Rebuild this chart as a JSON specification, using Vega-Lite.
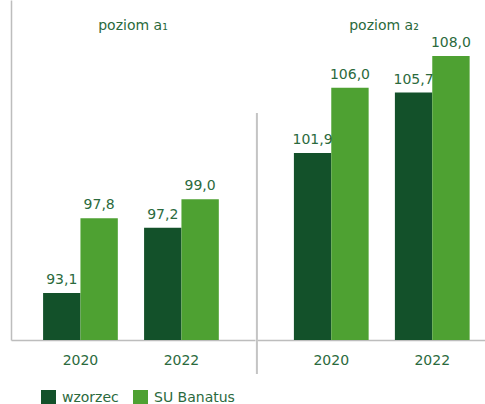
{
  "$schema": "https://vega.github.io/schema/vega-lite/v6.json",
  "padding": {"left": 11, "top": 0, "right": 0, "bottom": 0},
  "background": "white",
  "datasets": {
    "wyniki": [
      {"panel": "poziom a₁", "rok": "2020", "seria": "wzorzec", "wartosc": 93.1},
      {"panel": "poziom a₁", "rok": "2020", "seria": "SU Banatus", "wartosc": 97.8},
      {"panel": "poziom a₁", "rok": "2022", "seria": "wzorzec", "wartosc": 97.2},
      {"panel": "poziom a₁", "rok": "2022", "seria": "SU Banatus", "wartosc": 99.0},
      {"panel": "poziom a₂", "rok": "2020", "seria": "wzorzec", "wartosc": 101.9},
      {"panel": "poziom a₂", "rok": "2020", "seria": "SU Banatus", "wartosc": 106.0},
      {"panel": "poziom a₂", "rok": "2022", "seria": "wzorzec", "wartosc": 105.7},
      {"panel": "poziom a₂", "rok": "2022", "seria": "SU Banatus", "wartosc": 108.0}
    ]
  },
  "spacing": 0,
  "hconcat": [
    {
      "width": 244,
      "height": 340,
      "title": {"text": "poziom a₁", "offset": -33},
      "data": {"name": "wyniki"},
      "transform": [{"filter": "datum.panel === 'poziom a₁'"}],
      "encoding": {
        "x": {"field": "rok", "type": "nominal", "title": null,
              "scale": {"paddingInner": 0.26, "paddingOuter": 0.338, "align": 0.47},
              "axis": {"labelAngle": 0}},
        "xOffset": {"field": "seria", "type": "nominal", "sort": ["wzorzec", "SU Banatus"], "scale": {"paddingInner": 0, "paddingOuter": 0}},
        "y": {"field": "wartosc", "type": "quantitative", "title": null,
              "scale": {"domain": [90.15, 111.52], "nice": false, "zero": false},
              "axis": {"labels": false, "ticks": false, "grid": false, "domain": true}}
      },
      "layer": [
        {"mark": {"type": "bar", "clip": true},
         "encoding": {"color": {"field": "seria", "type": "nominal", "sort": ["wzorzec", "SU Banatus"], "title": null,
           "scale": {"domain": ["wzorzec", "SU Banatus"], "range": ["#13512a", "#4ea132"]}}}},
        {"mark": {"type": "text", "baseline": "bottom", "dy": -6, "fontSize": 14, "color": "#2b6a3d", "font": "DejaVu Sans"},
         "encoding": {"text": {"field": "wartosc", "type": "quantitative", "format": ".1f"}}}
      ]
    },
    {
      "width": 230,
      "height": 340,
      "title": {"text": "poziom a₂", "offset": -33, "dx": 12},
      "layer": [
        {
          "data": {"name": "wyniki"},
          "transform": [{"filter": "datum.panel === 'poziom a₂'"}],
          "encoding": {
            "x": {"field": "rok", "type": "nominal", "title": null,
                  "scale": {"paddingInner": 0.26, "paddingOuter": 0.2687, "align": 0.68},
                  "axis": {"labelAngle": 0}},
            "xOffset": {"field": "seria", "type": "nominal", "sort": ["wzorzec", "SU Banatus"], "scale": {"paddingInner": 0, "paddingOuter": 0}},
            "y": {"field": "wartosc", "type": "quantitative", "title": null,
                  "scale": {"domain": [90.15, 111.52], "nice": false, "zero": false},
                  "axis": null}
          },
          "layer": [
            {"mark": {"type": "bar", "clip": true},
             "encoding": {"color": {"field": "seria", "type": "nominal", "sort": ["wzorzec", "SU Banatus"], "title": null,
               "scale": {"domain": ["wzorzec", "SU Banatus"], "range": ["#13512a", "#4ea132"]}}}},
            {"mark": {"type": "text", "baseline": "bottom", "dy": -6, "fontSize": 14, "color": "#2b6a3d", "font": "DejaVu Sans"},
             "encoding": {"text": {"field": "wartosc", "type": "quantitative", "format": ".1f"}}}
          ]
        },
        {
          "data": {"values": [{"element": "separator"}]},
          "mark": {"type": "rule", "color": "#c4c4c4", "strokeWidth": 2, "xOffset": -37},
          "encoding": {
            "x": {"datum": "2020", "type": "nominal", "bandPosition": 0},
            "y": {"datum": 104.42, "type": "quantitative"},
            "y2": {"datum": 88.01}
          }
        }
      ]
    }
  ],
  "config": {
    "locale": {"number": {"decimal": ",", "thousands": " ", "grouping": [3], "currency": ["", " zł"]}},
    "font": "DejaVu Sans",
    "view": {"stroke": null},
    "title": {"fontSize": 14, "fontWeight": "normal", "color": "#2b6a3d", "font": "DejaVu Sans", "anchor": "middle"},
    "axis": {"domainColor": "#bdbdbd", "domainWidth": 1.5, "ticks": false, "grid": false,
             "labelFontSize": 14, "labelColor": "#2b6a3d", "labelFont": "DejaVu Sans", "labelPadding": 13},
    "legend": {"orient": "none", "legendX": 30, "legendY": 390, "direction": "horizontal",
               "symbolType": "square", "symbolSize": 225, "symbolStrokeWidth": 0, "symbolOpacity": 1,
               "labelFontSize": 14, "labelColor": "#2b6a3d", "labelFont": "DejaVu Sans",
               "labelOffset": 6, "columnPadding": 14}
  }
}
